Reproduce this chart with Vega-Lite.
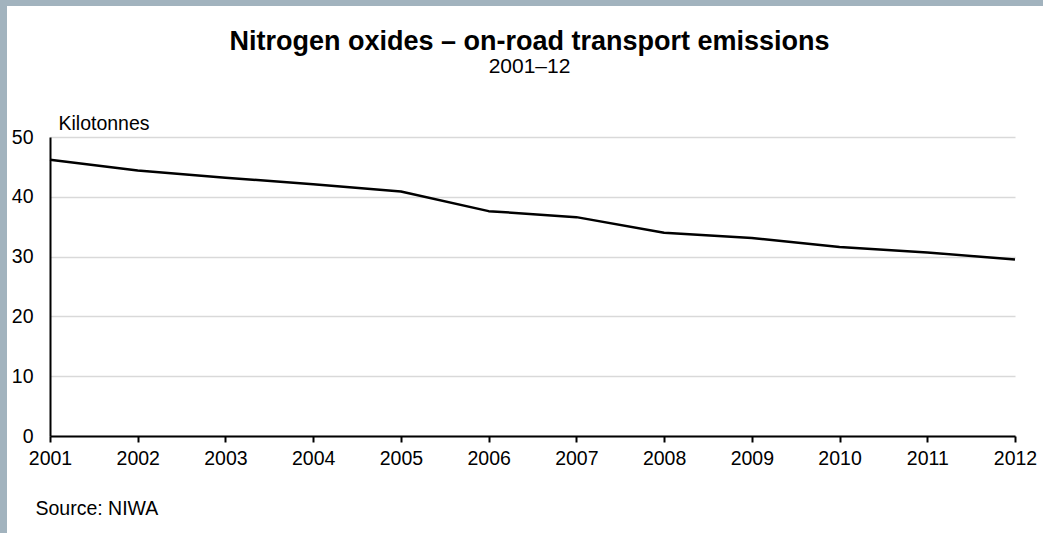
{
  "$schema": "https://vega.github.io/schema/vega-lite/v6.json",
  "background": "white",
  "padding": 0,
  "bounds": "flush",
  "spacing": 0,
  "config": {
    "view": {"stroke": null},
    "font": "Liberation Sans"
  },
  "vconcat": [
    {
      "width": 1043,
      "height": 6,
      "view": {"fill": "#a2b3be", "stroke": null},
      "data": {"values": []},
      "mark": "rect"
    },
    {
      "bounds": "flush",
      "spacing": 43,
      "hconcat": [
        {
          "width": 7,
          "height": 527,
          "view": {"fill": "#a2b3be", "stroke": null},
          "data": {"values": []},
          "mark": "rect"
        },
        {
          "bounds": "flush",
          "spacing": 0,
          "vconcat": [
            {
              "width": 1,
              "height": 131,
              "view": {"stroke": null},
              "data": {"values": []},
              "mark": "rect"
            },
            {
              "width": 965,
              "height": 299,
              "title": {
                "text": "Nitrogen oxides – on-road transport emissions",
                "subtitle": "2001–12",
                "font": "Liberation Sans",
                "fontSize": 27,
                "fontWeight": "bold",
                "color": "black",
                "subtitleFont": "Liberation Sans",
                "subtitleFontSize": 21,
                "subtitleColor": "black",
                "subtitlePadding": 0,
                "anchor": "middle",
                "frame": "group",
                "dx": -3,
                "offset": 35
              },
              "data": {
                "values": [
                  {"year": 2001, "kilotonnes": 46.2},
                  {"year": 2002, "kilotonnes": 44.4},
                  {"year": 2003, "kilotonnes": 43.2},
                  {"year": 2004, "kilotonnes": 42.1},
                  {"year": 2005, "kilotonnes": 40.9},
                  {"year": 2006, "kilotonnes": 37.6},
                  {"year": 2007, "kilotonnes": 36.6},
                  {"year": 2008, "kilotonnes": 34.0},
                  {"year": 2009, "kilotonnes": 33.1},
                  {"year": 2010, "kilotonnes": 31.6},
                  {"year": 2011, "kilotonnes": 30.7},
                  {"year": 2012, "kilotonnes": 29.5}
                ]
              },
              "mark": {"type": "line", "color": "black", "strokeWidth": 2.5, "strokeJoin": "round"},
              "encoding": {
                "x": {
                  "field": "year",
                  "type": "quantitative",
                  "scale": {"domain": [2001, 2012], "nice": false, "zero": false},
                  "axis": {
                    "values": [2001, 2002, 2003, 2004, 2005, 2006, 2007, 2008, 2009, 2010, 2011, 2012],
                    "format": "d",
                    "grid": false,
                    "domainColor": "black",
                    "domainWidth": 2,
                    "tickColor": "black",
                    "tickWidth": 2,
                    "tickSize": 6,
                    "labelFont": "Liberation Sans",
                    "labelFontSize": 19.5,
                    "labelColor": "black",
                    "labelPadding": 7,
                    "labelFlush": false,
                    "labelOverlap": false,
                    "title": "Source: NIWA",
                    "titleFont": "Liberation Sans",
                    "titleFontSize": 19.5,
                    "titleFontWeight": "normal",
                    "titleColor": "black",
                    "titleAnchor": "start",
                    "titleAlign": "left",
                    "titleBaseline": "alphabetic",
                    "titleX": -15,
                    "titleY": 78
                  }
                },
                "y": {
                  "field": "kilotonnes",
                  "type": "quantitative",
                  "scale": {"domain": [0, 50], "nice": false},
                  "axis": {
                    "values": [0, 10, 20, 30, 40, 50],
                    "grid": true,
                    "gridColor": "#d9d9d9",
                    "gridWidth": 1.5,
                    "ticks": false,
                    "domainColor": "black",
                    "domainWidth": 2,
                    "labelFont": "Liberation Sans",
                    "labelFontSize": 19.5,
                    "labelColor": "black",
                    "labelPadding": 17,
                    "labelFlush": false,
                    "title": "Kilotonnes",
                    "titleFont": "Liberation Sans",
                    "titleFontSize": 19.5,
                    "titleFontWeight": "normal",
                    "titleColor": "black",
                    "titleAngle": 0,
                    "titleAlign": "left",
                    "titleBaseline": "alphabetic",
                    "titleX": 8,
                    "titleY": -8
                  }
                }
              }
            }
          ]
        }
      ]
    }
  ]
}
